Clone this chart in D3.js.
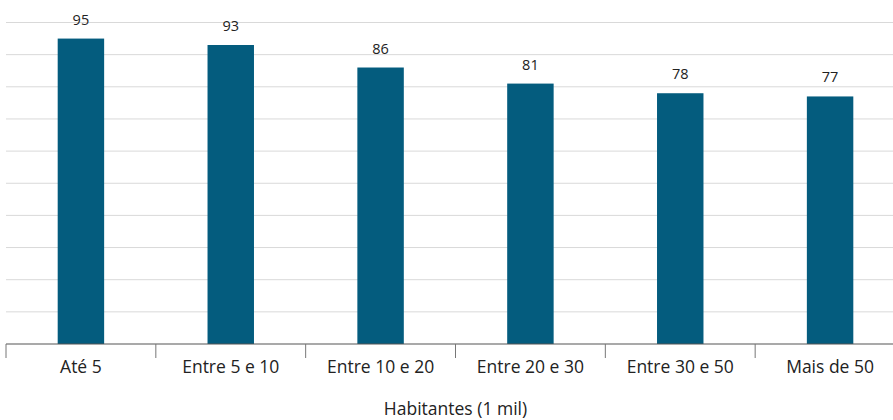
<!DOCTYPE html>
<html>
<head>
<meta charset="utf-8">
<script src="https://cdn.jsdelivr.net/npm/d3@7"></script>
<style>
  html, body { margin: 0; padding: 0; background: #fff; }
  svg { display: block; }
  text { font-family: "Open Sans", "Noto Sans", sans-serif; fill: #222; }
</style>
</head>
<body>
<svg id="chart" width="893" height="420"></svg>
<script>
// Population size classes (thousand inhabitants) and their values
const categories = ["Até 5", "Entre 5 e 10", "Entre 10 e 20", "Entre 20 e 30", "Entre 30 e 50", "Mais de 50"];
const values = [95, 93, 86, 81, 78, 77];
const gridTicks = [0, 10, 20, 30, 40, 50, 60, 70, 80, 90, 100];
const axisTitle = "Habitantes (1 mil)";

const svg = d3.select("#chart");
const W = 893;

const x = d3.scaleBand().domain(categories).range([6, 905]).padding(0);
const y = d3.scaleLinear().domain([0, 100]).range([344, 22.5]);
const barW = x.bandwidth() * 0.31;

// horizontal gridlines
svg.append("g")
  .selectAll("line")
  .data(gridTicks.filter(d => d > 0))
  .join("line")
  .attr("x1", 6).attr("x2", W)
  .attr("y1", d => y(d)).attr("y2", d => y(d))
  .attr("stroke", "#d9d9d9")
  .attr("stroke-width", 1);

// bars
svg.append("g")
  .selectAll("rect")
  .data(values)
  .join("rect")
  .attr("x", (d, i) => x(categories[i]) + (x.bandwidth() - barW) / 2)
  .attr("y", d => y(d))
  .attr("width", barW)
  .attr("height", d => y(0) - y(d))
  .attr("fill", "#045c7e");

// value labels
svg.append("g")
  .selectAll("text")
  .data(values)
  .join("text")
  .attr("x", (d, i) => x(categories[i]) + x.bandwidth() / 2)
  .attr("y", d => y(d) - 14)
  .attr("text-anchor", "middle")
  .style("font-size", "14.5px")
  .text(d => d);

// category axis: baseline, boundary ticks, labels
const axis = svg.append("g");
axis.append("line")
  .attr("x1", 6).attr("x2", W)
  .attr("y1", y(0)).attr("y2", y(0))
  .attr("stroke", "#555").attr("stroke-width", 1.2);

axis.selectAll("line.tick")
  .data(categories)
  .join("line")
  .attr("class", "tick")
  .attr("x1", d => x(d)).attr("x2", d => x(d))
  .attr("y1", y(0)).attr("y2", y(0) + 14)
  .attr("stroke", "#777").attr("stroke-width", 1);

axis.selectAll("text")
  .data(categories)
  .join("text")
  .attr("x", d => x(d) + x.bandwidth() / 2)
  .attr("y", y(0) + 29)
  .attr("text-anchor", "middle")
  .style("font-size", "17.5px")
  .text(d => d);

// axis title
svg.append("text")
  .attr("x", (6 + 905) / 2)
  .attr("y", 415)
  .attr("text-anchor", "middle")
  .style("font-size", "17.5px")
  .text(axisTitle);
</script>
</body>
</html>
